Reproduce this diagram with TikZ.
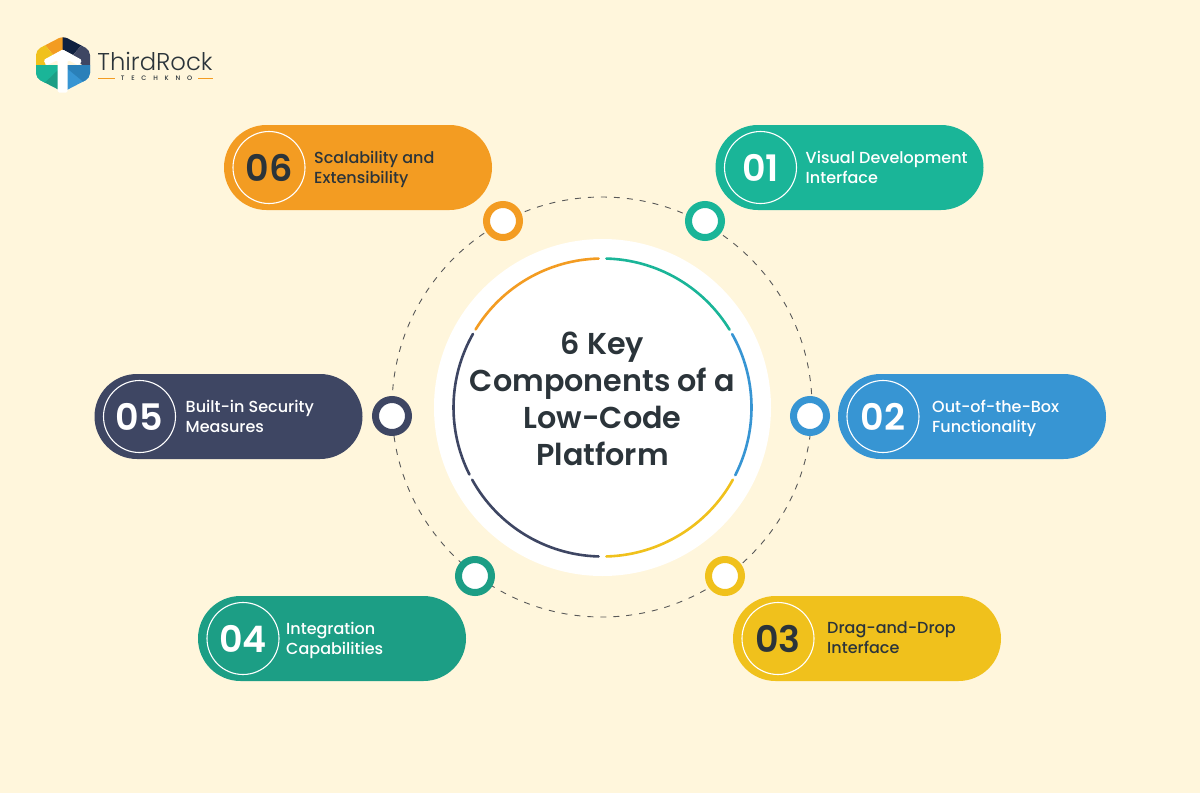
\documentclass[tikz,border=0pt]{standalone}
\usepackage{fontspec}
\setmainfont{Poppins}
\newfontfamily\pmed{Poppins Medium}
\newfontfamily\psemi{Poppins SemiBold}
\newfontfamily\plight{Poppins Light}
\usetikzlibrary{shapes.misc}
\definecolor{bgc}{HTML}{FFF6DC}
\definecolor{tealc}{HTML}{1AB598}
\definecolor{bluec}{HTML}{3795D3}
\definecolor{dbluec}{HTML}{2A80B9}
\definecolor{yelc}{HTML}{F0C11C}
\definecolor{dtealc}{HTML}{1C9E85}
\definecolor{navyc}{HTML}{3E4663}
\definecolor{dnavyc}{HTML}{0F2040}
\definecolor{orac}{HTML}{F39C22}
\definecolor{inkc}{HTML}{2B343A}
\tikzset{
  pillbox/.style={rounded rectangle,minimum width=268pt,minimum height=85pt,inner sep=0pt,outer sep=0pt,fill=#1},
  numring/.style={circle,minimum size=72pt,inner sep=0pt,draw=white,line width=1.1pt,font=\psemi\fontsize{36.5}{36.5}\selectfont},
  pilltext/.style={anchor=west,align=left,inner sep=0pt,font=\pmed\fontsize{16}{20}\selectfont,execute at begin node=\strut,execute at end node=\strut},
  dotring/.style={circle,minimum size=33pt,inner sep=0pt,fill=white,draw=#1,line width=7pt},
  arcline/.style={line width=2.6pt,line cap=round},
}
\newcommand{\pillrow}[8]{%
  \node[pillbox=#4] (pill#1) at (#2,#3) {};
  \node[numring,text=#6] (num#1) at ([xshift=45pt]pill#1.west) {#5};
  \node[pilltext,text=#6] (txt#1) at ([xshift=#8pt,yshift=-2.5pt]pill#1.west) {#7};
}
\begin{document}
\begin{tikzpicture}[x=1pt,y=-1pt]
\useasboundingbox (0,0) rectangle (1200,793);
\fill[bgc] (0,0) rectangle (1200,793);
% logo
\begin{scope}
\clip[rounded corners=5pt] (63,36)--(90,50)--(90,78)--(63,92)--(36,78)--(36,50)--cycle;
\fill[bluec] (63,65) rectangle (96,96);
\fill[dtealc] (30,65) rectangle (63,96);
\fill[orac] (63,30)--(63,49.5)--(53.3,55)--(45,45)--(36,40)--cycle;
\fill[yelc] (45,45)--(30,48)--(30,65)--(45,65)--(53.3,55)--cycle;
\fill[dnavyc] (62.7,30)--(62.7,49.5)--(73,55)--(81.7,45)--(90,40)--cycle;
\fill[navyc] (81.7,45)--(96,48)--(96,65)--(82,65)--(73,55)--cycle;
\fill[dbluec] (63,65)--(96,65)--(96,78)--(83.5,82)--cycle;
\fill[tealc] (30,65)--(63,65)--(44,83.3)--(30,78)--cycle;
\end{scope}
\fill[white,rounded corners=1.5pt] (62.7,49.5)--(82,60)--(79,65.5)--(67.7,60)--(67.7,92.5)--(57.7,92.5)--(57.7,60)--(46.3,65.5)--(43.5,60)--cycle;
\node[inkc,inner sep=0pt,font=\plight\fontsize{24.3}{24.3}\selectfont] (logoname) at (155,61) {ThirdRock};
\node[inkc,inner sep=0pt,font=\pmed\fontsize{6.5}{6.5}\selectfont] (logosub) at (156.5,78.5) {T\hspace{6.8pt}E\hspace{6.8pt}C\hspace{6.8pt}H\hspace{6.8pt}K\hspace{6.8pt}N\hspace{6.8pt}O};
\draw[orac,line width=.7pt] (98,78)--(115,78) (198,78)--(213,78);
% dashed orbit
\node[circle,draw=black!65,dash pattern=on 6pt off 7pt,line width=.9pt,minimum size=420pt,inner sep=0pt] (orbit) at (602,407) {};
% centre disc
\node[circle,fill=white,minimum size=337pt,inner sep=0pt] (disc) at (602.5,407.5) {};
\coordinate (ctr) at (602.5,407.5);
\foreach \c/\a/\b in {tealc/88.5/31.5,bluec/29.5/-27,yelc/-29/-88.5,navyc/-91.5/-151,navyc/-153.3/-209.6,orac/-211.6/-268.5}{
  \draw[arcline,\c] ([shift={(\a:149pt)}]ctr) arc[start angle=\a,end angle=\b,radius=149pt];
}
\node[inkc,align=center,inner sep=0pt,font=\psemi\fontsize{30.2}{37}\selectfont] (title) at (602.5,399) {6 Key\\Components of a\\Low-Code\\Platform};
% pills
\pillrow{1}{849.5}{167.5}{tealc}{01}{white}{Visual Development\\Interface}{90}
\pillrow{2}{972}{416.5}{bluec}{02}{white}{Out-of-the-Box\\Functionality}{94}
\pillrow{3}{867}{638.5}{yelc}{03}{inkc}{Drag-and-Drop\\Interface}{94}
\pillrow{4}{332}{638.5}{dtealc}{04}{white}{Integration\\Capabilities}{88}
\pillrow{5}{228.5}{416.5}{navyc}{05}{white}{Built-in Security\\Measures}{91}
\pillrow{6}{358}{167.5}{orac}{06}{inkc}{Scalability and\\Extensibility}{90}
% rings
\node[dotring=tealc] (dot1) at (705,221) {};
\node[dotring=bluec] (dot2) at (810,416) {};
\node[dotring=yelc] (dot3) at (725,576) {};
\node[dotring=dtealc] (dot4) at (475,576) {};
\node[dotring=navyc] (dot5) at (392,416) {};
\node[dotring=orac] (dot6) at (503,221) {};
\end{tikzpicture}
\end{document}
